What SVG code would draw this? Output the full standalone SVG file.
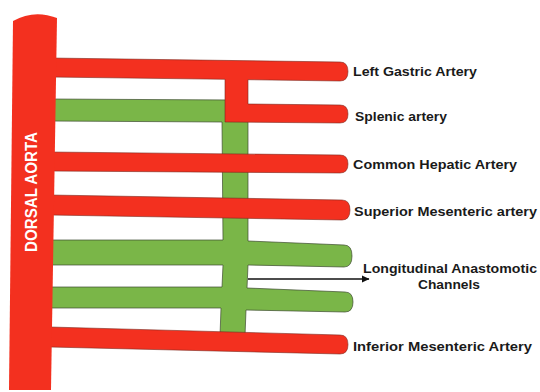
<svg xmlns="http://www.w3.org/2000/svg" width="540" height="392" viewBox="0 0 540 392">
<defs>
<style>
.red{fill:#f3301f;stroke:#7a2a20;stroke-width:0.6}
.green{fill:#7ab648;stroke:#3d4a30;stroke-width:0.7}
.lbl{font-family:"Liberation Sans",Arial,sans-serif;font-weight:bold;font-size:13px;fill:#1a1a1a}
.conn{stroke:#111;stroke-width:1.3;fill:none}
</style>
<marker id="ah" markerWidth="8" markerHeight="8" refX="7" refY="4" orient="auto" markerUnits="userSpaceOnUse">
<path d="M0,0.5 L7.5,4 L0,7.5 Z" fill="#111"/>
</marker>
</defs>
<rect width="540" height="392" fill="#fff"/>
<g id="longitudinal-anastomotic-channels">
<path class="green" d="M50,99 L235,100 L248,116 L248,241 L344,245 Q352,245 352,256 Q352,267 344,267 L248,265 L247,288 L345,292 Q353,292 353,302 Q353,312 345,312 L246,310 L245,336 L220,336 L221,308 L50,308 L50,287 L222,287 L223,265 L50,265 L50,240 L223,240 L222,122 L50,121 Z"/>
</g>
<g id="left-gastric-and-splenic-artery">
<path class="red" d="M50,58 L340,62 Q348,62 348,71.5 Q348,81 340,81 L248,79.7 L248,104 L340,105 Q348,105 348,114 Q348,123 340,123 L225,122 L225,79.3 L50,77 Z"/>
<text class="lbl" x="353" y="76" textLength="124" lengthAdjust="spacingAndGlyphs">Left Gastric Artery</text>
<text class="lbl" x="355" y="121" textLength="92" lengthAdjust="spacingAndGlyphs">Splenic artery</text>
</g>
<g id="common-hepatic-artery">
<path class="red" d="M50,152 L340,155 Q348,155 348,164 Q348,173 340,173 L50,171 Z"/>
<text class="lbl" x="353" y="169" textLength="164" lengthAdjust="spacingAndGlyphs">Common Hepatic Artery</text>
</g>
<g id="superior-mesenteric-artery">
<path class="red" d="M50,195 L342,200 Q350,200 350,210 Q350,220 342,220 L50,215 Z"/>
<text class="lbl" x="354" y="216" textLength="183" lengthAdjust="spacingAndGlyphs">Superior Mesenteric artery</text>
</g>
<g id="inferior-mesenteric-artery">
<path class="red" d="M50,327 L340,335 Q348,335 348,344.5 Q348,354 340,354 L50,347 Z"/>
<text class="lbl" x="353" y="351" textLength="179" lengthAdjust="spacingAndGlyphs">Inferior Mesenteric Artery</text>
</g>
<g id="dorsal-aorta">
<path d="M13,21 Q34,9 57,18 L51,390 L9,390 Z" fill="#f3301f"/>
<text transform="translate(37,192) rotate(-90)" x="0" y="0" text-anchor="middle" font-family="Liberation Sans, Arial, sans-serif" font-weight="bold" font-size="17" fill="#fff" textLength="120" lengthAdjust="spacingAndGlyphs">DORSAL AORTA</text>
</g>
<g id="connectors">
<line class="conn" x1="248" y1="279" x2="369" y2="279" marker-end="url(#ah)"/>
</g>
<g id="channels-label">
<text class="lbl" x="450" y="273" text-anchor="middle" textLength="174" lengthAdjust="spacingAndGlyphs">Longitudinal Anastomotic</text>
<text class="lbl" x="449" y="289" text-anchor="middle" textLength="62" lengthAdjust="spacingAndGlyphs">Channels</text>
</g>
</svg>
